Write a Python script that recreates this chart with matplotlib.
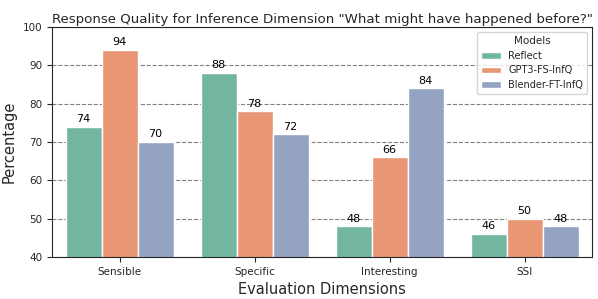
import numpy as np
import pandas as pd
import seaborn as sns
import matplotlib
matplotlib.use("Agg")
import matplotlib.pyplot as plt

DIMENSIONS = ["Sensible", "Specific", "Interesting", "SSI"]
MODELS = ["Reflect", "GPT3-FS-InfQ", "Blender-FT-InfQ"]
REFLECT = [74, 88, 48, 46]
GPT3 = [94, 78, 66, 50]
BLENDER = [70, 72, 84, 48]

rows = []
for model, values in zip(MODELS, [REFLECT, GPT3, BLENDER]):
    for dim, v in zip(DIMENSIONS, values):
        rows.append({"Evaluation Dimensions": dim, "Models": model, "Percentage": v})
df = pd.DataFrame(rows)

sns.set_style("ticks")
plt.rcParams["font.family"] = ["DejaVu Sans"]

fig, ax = plt.subplots(figsize=(5.98, 2.99), dpi=100)
sns.barplot(data=df, x="Evaluation Dimensions", y="Percentage", hue="Models",
            palette="Set2", edgecolor="white", linewidth=1, ax=ax)

for container in ax.containers:
    ax.bar_label(container, fmt="%d", fontsize=8, padding=2, color="black")

ax.set_ylim(40, 100)
ax.set_yticks(np.arange(40, 101, 10))
ax.yaxis.grid(True, linestyle="--", color="gray", linewidth=0.8)
ax.set_axisbelow(True)
ax.tick_params(labelsize=7.5)
ax.set_xlabel("Evaluation Dimensions", fontsize=10.5)
ax.set_ylabel("Percentage", fontsize=10.5)
ax.set_title('Response Quality for Inference Dimension "What might have happened before?"',
             fontsize=9.6, pad=3)
ax.legend(title="Models", fontsize=7, title_fontsize=7.5, loc="upper right")

fig.subplots_adjust(left=0.087, right=0.99, top=0.91, bottom=0.14)
fig.savefig("out.png", dpi=100)
